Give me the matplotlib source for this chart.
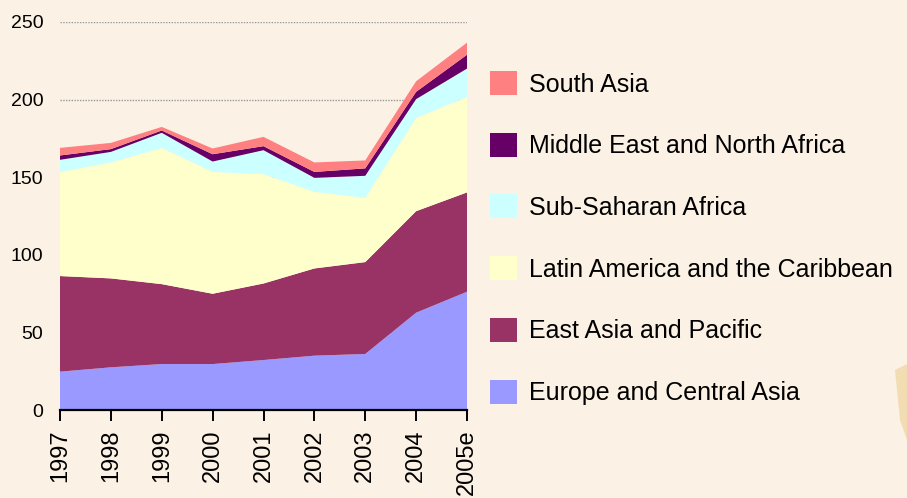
import matplotlib
matplotlib.use("Agg")
import matplotlib.pyplot as plt
from matplotlib.patches import Patch, Polygon
import numpy as np

plt.rcParams["font.family"] = ["Liberation Sans", "DejaVu Sans"]

years = ["1997", "1998", "1999", "2000", "2001", "2002", "2003", "2004", "2005e"]

europe_central_asia = [24.7, 27.5, 29.6, 29.6, 32.2, 35.0, 36.1, 62.7, 76.2]
east_asia_pacific = [61.6, 57.3, 51.5, 45.3, 49.3, 56.2, 59.2, 65.4, 64.0]
latin_america = [67.1, 74.7, 87.8, 78.5, 70.5, 49.4, 41.4, 60.1, 61.5]
sub_saharan_africa = [7.8, 6.8, 9.7, 6.7, 15.4, 9.0, 14.2, 12.1, 18.3]
middle_east_na = [2.8, 1.8, 1.5, 4.7, 2.6, 3.8, 4.8, 4.7, 8.9]
south_asia = [4.9, 4.0, 2.3, 3.7, 6.0, 6.1, 5.1, 6.8, 7.8]

labels = [
    "Europe and Central Asia",
    "East Asia and Pacific",
    "Latin America and the Caribbean",
    "Sub-Saharan Africa",
    "Middle East and North Africa",
    "South Asia",
]
colors = ["#9999FF", "#993366", "#FFFFCC", "#CCFFFF", "#660066", "#FF8080"]

bg = "#FBF1E4"

fig = plt.figure(figsize=(9.07, 4.98), dpi=100, facecolor=bg)

# decorative tan wedge bottom right
fig.patches.append(Polygon([[895 / 907, 1 - 370 / 498], [907 / 907, 1 - 364 / 498],
                            [907 / 907, 1 - 440 / 498], [900 / 907, 1 - 420 / 498]],
                           closed=True, transform=fig.transFigure,
                           facecolor="#F2DCB2", edgecolor="none"))

ax = fig.add_axes([60 / 907, 88 / 498, 407 / 907, 388 / 498])
ax.set_facecolor(bg)

x = np.arange(len(years))
ax.stackplot(x, europe_central_asia, east_asia_pacific, latin_america,
             sub_saharan_africa, middle_east_na, south_asia,
             colors=colors, linewidth=0, zorder=2)

ax.set_xlim(0, len(years) - 1)
ax.set_ylim(0, 250)
ax.set_yticks([0, 50, 100, 150, 200, 250])
ax.yaxis.grid(True, color="#999999", linestyle=(0, (1, 1)), linewidth=1.0, zorder=0)
ax.set_axisbelow(True)

for side in ["left", "right", "top"]:
    ax.spines[side].set_visible(False)
ax.spines["bottom"].set_color("black")
ax.spines["bottom"].set_linewidth(1.6)
ax.spines["bottom"].set_zorder(3)

ax.set_xticks(x)
ax.set_xticklabels(years, rotation=90, fontsize=17)
ax.tick_params(axis="x", direction="out", length=8, width=1.4, pad=6, colors="black")
ax.tick_params(axis="y", length=0, pad=12, labelsize=14)

handles = [Patch(facecolor=c, edgecolor="none") for c in colors[::-1]]
fig.legend(handles, labels[::-1], loc="upper left",
           bbox_to_anchor=(480 / 907, 1 - 61 / 498), frameon=False,
           fontsize=18, handlelength=1.08, handleheight=1.1,
           handletextpad=0.48, labelspacing=1.45, borderaxespad=0)

fig.savefig("out.png", dpi=100, facecolor=bg)
